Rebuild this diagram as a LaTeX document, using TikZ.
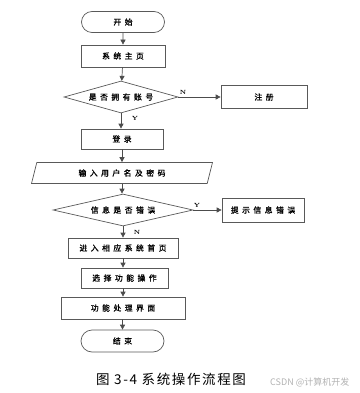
\documentclass[tikz,border=0pt]{standalone}
\usepackage{fontspec}
\newfontfamily\cjk[LetterSpace=45,FakeBold=1.2]{Noto Sans CJK SC}
\newfontfamily\capfont[LetterSpace=12]{Noto Sans CJK SC}
\newfontfamily\markfont{Noto Sans CJK SC}
\usetikzlibrary{positioning,arrows.meta,shapes.geometric,shapes.misc}
\tikzset{
  base/.style={draw=black!65, line width=0.7pt, font=\cjk\fontsize{7.8}{9}\selectfont, inner sep=0pt, align=center},
  term/.style={base, rounded rectangle, minimum width=83pt, minimum height=21pt},
  proc/.style={base, rectangle, minimum height=21pt},
  dec/.style={base, diamond, aspect=3.5, minimum height=32pt},
  io/.style={base, trapezium, trapezium left angle=54, trapezium right angle=126, trapezium stretches body, minimum width=181pt, minimum height=21pt},
  fl/.style={-{Triangle[length=5pt,width=5pt]}, draw=black!70, line width=0.7pt},
  yn/.style={font=\fontsize{6}{7}\selectfont\bfseries, inner sep=0pt},
}
\begin{document}
\begin{tikzpicture}[x=1pt,y=-1pt]
\useasboundingbox (0,0) rectangle (359,393);
\node[term] (start) at (123,22) {开始};
\node[proc, minimum width=84pt, minimum height=22pt] (home) at (123,56) {系统主页};
\node[dec, minimum width=114pt] (hasacc) at (121,97) {是否拥有账号};
\node[proc, minimum width=86pt, minimum height=23pt] (reg) at (264,97) {注册};
\node[proc, minimum width=82pt, minimum height=20pt] (login) at (122,139) {登录};
\node[io] (input) at (122,173) {输入用户名及密码};
\node[dec, minimum width=140pt] (chk) at (123,210) {信息是否错误};
\node[proc, minimum width=82pt, minimum height=24pt] (tip) at (263,210) {提示信息错误};
\node[proc, minimum width=110pt, minimum height=20pt] (enter) at (123,248) {进入相应系统首页};
\node[proc, minimum width=87pt, minimum height=20pt] (sel) at (124.5,278) {选择功能操作};
\node[proc, minimum width=124pt, minimum height=22pt] (work) at (123,308) {功能处理界面};
\node[term, minimum height=22pt] (stop) at (122.5,341) {结束};
% branch labels
\node[yn] (n1) at (183,92) {N};
\node[yn] (y1) at (135,118) {Y};
\node[yn] (y2) at (197,205) {Y};
\node[yn] (n2) at (137,232) {N};
% connectors
\draw[fl] (start) -- (home);
\draw[fl] (home) -- (hasacc);
\draw[fl] (hasacc) -- (reg);
\draw[fl] (hasacc.south) -- (login.north -| hasacc.south);
\draw[fl] (login.south) -- (input.north -| login.south);
\draw[fl] (input.south) -- (chk.north -| input.south);
\draw[fl] (chk) -- (tip);
\draw[fl] (chk.south) -- (enter.north -| chk.south);
\draw[fl] (enter.south) -- (sel.north -| enter.south);
\draw[fl] (sel.south -| enter.south) -- (work.north -| enter.south);
\draw[fl] (work.south -| stop.north) -- (stop.north);
% caption
\node[font=\capfont\fontsize{13.5}{15}\selectfont, inner sep=0pt] (cap) at (171,379) {图~3-4~系统操作流程图};
\node[font=\markfont\fontsize{9}{10}\selectfont, text=black!30, anchor=west, inner sep=0pt] (mark) at (270,382) {CSDN @计算机开发};
\end{tikzpicture}
\end{document}
